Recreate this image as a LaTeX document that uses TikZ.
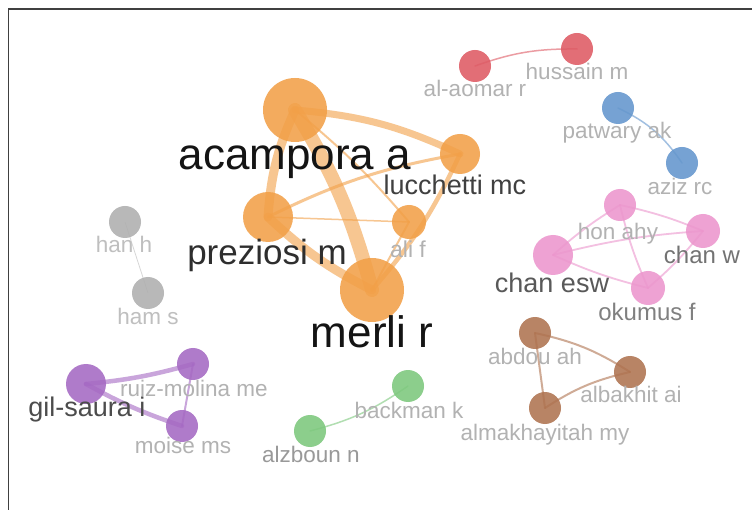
\documentclass[tikz,border=0pt]{standalone}
\usepackage{fontspec}
\setmainfont{Liberation Sans}
\definecolor{cor}{RGB}{242,160,72}
\definecolor{cred}{RGB}{222,90,100}
\definecolor{cblue}{RGB}{100,150,205}
\definecolor{cpink}{RGB}{236,150,205}
\definecolor{cgray}{RGB}{175,175,175}
\definecolor{cpur}{RGB}{165,105,195}
\definecolor{cgreen}{RGB}{125,200,125}
\definecolor{cbrown}{RGB}{175,115,80}
\tikzset{
  vnode/.style={circle,inner sep=0pt,minimum size=#1},
  vedge/.style={line cap=round,draw opacity=0.6},
  lab/.style={inner sep=0pt,anchor=base,font=\fontsize{#1}{#1}\selectfont},
}
\begin{document}
\begin{tikzpicture}[x=1pt,y=-1pt]
\useasboundingbox (0,0) rectangle (752,510);
\fill[white] (0,0) rectangle (752,510);
\draw[line width=1.5pt,color=black!75] (8.5,510) -- (8.5,9) -- (752,9);

% node coordinates
\coordinate (acp) at (295,110);
\coordinate (luc) at (460,154);
\coordinate (pre) at (268,217);
\coordinate (ali) at (409,222);
\coordinate (mer) at (372,290);
\coordinate (alo) at (475,66);
\coordinate (hus) at (577,49);
\coordinate (pat) at (618,108);
\coordinate (azi) at (682,163);
\coordinate (hon) at (620,205);
\coordinate (chw) at (703,231);
\coordinate (che) at (553,255);
\coordinate (oku) at (648,288);
\coordinate (hah) at (125,222);
\coordinate (has) at (148,293);
\coordinate (gil) at (86,384);
\coordinate (rui) at (193,364);
\coordinate (moi) at (182,426);
\coordinate (bac) at (408,386);
\coordinate (alz) at (310,431);
\coordinate (abd) at (535,333);
\coordinate (alb) at (630,372);
\coordinate (alm) at (545,408);

% orange edges
\begin{scope}[cor,vedge]
\draw[line width=14pt] (acp) to[bend left=8] (mer);
\draw[line width=9pt] (acp) to[bend right=10] (pre);
\draw[line width=9pt] (pre) to[bend right=8] (mer);
\draw[line width=7pt] (acp) to[bend left=10] (luc);
\draw[line width=4.5pt] (luc) to[bend left=8] (mer);
\draw[line width=3pt] (pre) to[bend left=8] (luc);
\draw[line width=1.5pt] (pre) -- (ali);
\draw[line width=2pt] (acp) to[bend left=5] (ali);
\draw[line width=2pt] (ali) -- (mer);
\end{scope}
\draw[cred,vedge,line width=1.5pt] (alo) to[bend left=10] (hus);
\draw[cblue,vedge,line width=1.5pt] (pat) to[bend left=15] (azi);
\begin{scope}[cpink,vedge,line width=1.8pt]
\draw (che) to[bend left=5] (hon);
\draw (che) to[bend left=5] (chw);
\draw (che) to[bend right=5] (oku);
\draw (hon) to[bend left=5] (chw);
\draw (hon) to[bend right=5] (oku);
\draw (oku) to[bend right=5] (chw);
\end{scope}
\draw[cgray,vedge,line width=0.8pt,draw opacity=0.5] (hah) -- (has);
\begin{scope}[cpur,vedge]
\draw[line width=4.5pt] (gil) to[bend right=5] (rui);
\draw[line width=4.5pt] (gil) to[bend right=5] (moi);
\draw[line width=2pt] (rui) -- (moi);
\end{scope}
\draw[cgreen,vedge,line width=1.5pt] (alz) to[bend right=10] (bac);
\begin{scope}[cbrown,vedge,line width=2pt]
\draw (abd) to[bend left=10] (alb);
\draw (alm) to[bend left=10] (alb);
\draw (abd) -- (alm);
\end{scope}

% nodes
\begin{scope}[fill opacity=0.88]
\node[vnode=64pt,fill=cor] (nacp) at (acp) {};
\node[vnode=40pt,fill=cor] (nluc) at (luc) {};
\node[vnode=50pt,fill=cor] (npre) at (pre) {};
\node[vnode=34pt,fill=cor] (nali) at (ali) {};
\node[vnode=64pt,fill=cor] (nmer) at (mer) {};
\node[vnode=32pt,fill=cred] (nalo) at (alo) {};
\node[vnode=32pt,fill=cred] (nhus) at (hus) {};
\node[vnode=32pt,fill=cblue] (npat) at (pat) {};
\node[vnode=32pt,fill=cblue] (nazi) at (azi) {};
\node[vnode=32pt,fill=cpink] (nhon) at (hon) {};
\node[vnode=34pt,fill=cpink] (nchw) at (chw) {};
\node[vnode=40pt,fill=cpink] (nche) at (che) {};
\node[vnode=34pt,fill=cpink] (noku) at (oku) {};
\node[vnode=32pt,fill=cgray] (nhah) at (hah) {};
\node[vnode=32pt,fill=cgray] (nhas) at (has) {};
\node[vnode=40pt,fill=cpur] (ngil) at (gil) {};
\node[vnode=32pt,fill=cpur] (nrui) at (rui) {};
\node[vnode=32pt,fill=cpur] (nmoi) at (moi) {};
\node[vnode=32pt,fill=cgreen] (nbac) at (bac) {};
\node[vnode=32pt,fill=cgreen] (nalz) at (alz) {};
\node[vnode=32pt,fill=cbrown] (nabd) at (abd) {};
\node[vnode=32pt,fill=cbrown] (nalb) at (alb) {};
\node[vnode=32pt,fill=cbrown] (nalm) at (alm) {};
\end{scope}

% labels
\node[lab=44,text=black!92] (lacp) at (295,170) {acampora a};
\node[lab=44,text=black!92] (lmer) at (372,348) {merli r};
\node[lab=35,text=black!82] (lpre) at (267,265) {preziosi m};
\node[lab=27,text=black!75] (lluc) at (455,195) {lucchetti mc};
\node[lab=23,text=black!30] (lali) at (408,258) {ali f};
\node[lab=22.5,text=black!30] (lhus) at (577,80) {hussain m};
\node[lab=22.5,text=black!30] (lalo) at (475,97) {al-aomar r};
\node[lab=22.5,text=black!30] (lpat) at (617,139) {patwary ak};
\node[lab=22.5,text=black!30] (lazi) at (680,195) {aziz rc};
\node[lab=22.5,text=black!30] (lhon) at (618,240) {hon ahy};
\node[lab=24,text=black!55] (lchw) at (702,264) {chan w};
\node[lab=27,text=black!65] (lche) at (552,293) {chan esw};
\node[lab=24,text=black!50] (loku) at (647,321) {okumus f};
\node[lab=22.5,text=black!25] (lhah) at (124,253) {han h};
\node[lab=22.5,text=black!25] (lhas) at (148,325) {ham s};
\node[lab=22.5,text=black!30] (lrui) at (194,396) {ruiz-molina me};
\node[lab=27,text=black!70] (lgil) at (87,416) {gil-saura i};
\node[lab=22.5,text=black!30] (lmoi) at (183,453) {moise ms};
\node[lab=22.5,text=black!30] (lbac) at (409,418) {backman k};
\node[lab=22.5,text=black!40] (lalz) at (311,462) {alzboun n};
\node[lab=22.5,text=black!30] (labd) at (535,365) {abdou ah};
\node[lab=22.5,text=black!30] (lalb) at (631,402) {albakhit ai};
\node[lab=22.5,text=black!30] (lalm) at (545,440) {almakhayitah my};
\end{tikzpicture}
\end{document}
